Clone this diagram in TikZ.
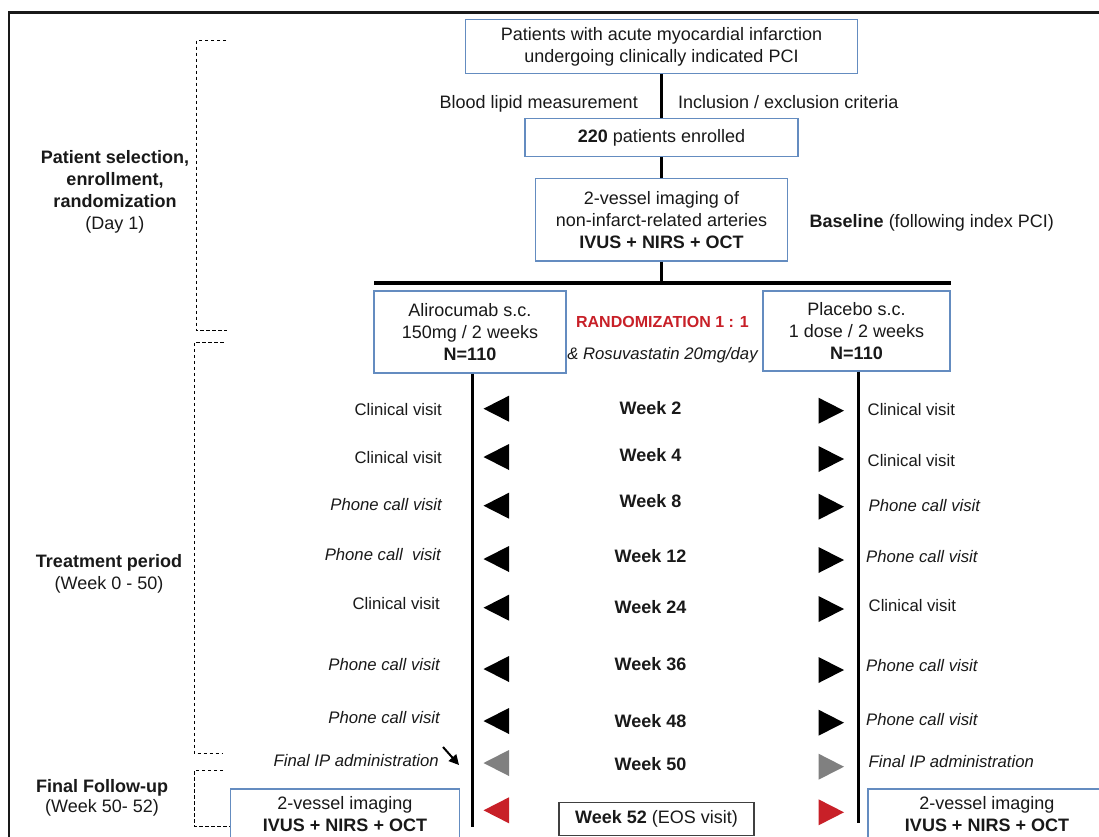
\documentclass[tikz,border=0pt]{standalone}
\usepackage{fontspec}
\setmainfont{Liberation Sans}
\usetikzlibrary{arrows.meta}
\definecolor{boxblue}{RGB}{100,140,192}
\definecolor{rred}{RGB}{200,32,40}
\definecolor{tgray}{RGB}{128,128,128}
\definecolor{txt}{RGB}{25,25,25}
\newcommand{\myfs}[1]{\fontsize{#1}{22}\selectfont}
\begin{document}
\begin{tikzpicture}[x=1pt,y=-1pt,
  every node/.style={text=txt, inner sep=0pt},
  lbl/.style={font=\myfs{18}, yshift=-2.5pt},
  side/.style={font=\myfs{16.7}, yshift=-2.5pt},
  sideit/.style={font=\myfs{16.7}\itshape, yshift=-2.5pt},
  week/.style={font=\myfs{18}\bfseries, yshift=-2.5pt},
  bx/.style={draw=boxblue, line width=1.3pt, align=center, font=\myfs{18}},
  conn/.style={line width=3pt, draw=black},
  brk/.style={dash pattern=on 3.5pt off 2.5pt, line width=0.9pt, draw=black},
]
\useasboundingbox (0,0) rectangle (1099,836);
\clip (0,0) rectangle (1099,836);
\fill[white] (0,0) rectangle (1099,836);

% frame
\draw[line width=2.2pt, txt] (9,845) -- (9,12.5) -- (1110,12.5);

% top flow
\node[bx, minimum width=392pt, minimum height=54pt] (p) at (661.5,46.5) {Patients with acute myocardial infarction\\undergoing clinically indicated PCI};
\node[bx, minimum width=273pt, minimum height=38pt] (enr) at (661.5,137.5) {\textbf{220} patients enrolled};
\node[bx, minimum width=252pt, minimum height=82.5pt] (img) at (661.5,219.75) {2-vessel imaging of\\non-infarct-related arteries\\\textbf{IVUS + NIRS + OCT}};
\node[lbl, anchor=mid east] (bl) at (638,103) {Blood lipid measurement};
\node[lbl, anchor=mid west] (ie) at (678,103) {Inclusion / exclusion criteria};
\node[lbl, anchor=mid west] (base) at (809.5,222) {\textbf{Baseline} (following index PCI)};

\coordinate (barL) at (374,282.5);
\coordinate (barR) at (951,282.5);
\coordinate (barM) at (661.5,282.5);
\draw[conn] (p.south) -- (enr.north);
\draw[conn] (enr.south) -- (img.north);
\draw[conn] (img.south) -- (barM);
\draw[line width=4pt] (barL) -- (barR);

% arms
\node[bx, minimum width=192pt, minimum height=82pt] (ali) at (470,332) {Alirocumab s.c.\\150mg / 2 weeks\\\textbf{N=110}};
\node[bx, minimum width=187pt, minimum height=80pt] (pla) at (856.5,331) {Placebo s.c.\\1 dose / 2 weeks\\\textbf{N=110}};
\node[font=\myfs{16}\bfseries, text=rred, anchor=mid, yshift=-2.5pt] (rand) at (662.5,322) {RANDOMIZATION 1 : 1};
\node[sideit, anchor=mid] (rosu) at (662.5,354) {\& Rosuvastatin 20mg/day};

% timelines
\coordinate (Lend) at (472,827);
\coordinate (Rend) at (858.5,823);
\draw[line width=3pt] (ali.south -| Lend) -- (Lend);
\draw[line width=3pt] (pla.south -| Rend) -- (Rend);

% triangles
\foreach \yl/\yr/\c in {408.7/410.7/black, 457/459/black, 505.7/506.7/black, 559/560/black, 607.7/609/black, 669/670/black, 721/722.7/black, 763/766.7/tgray, 810.3/812.3/rred} {
  \fill[\c] (509,\yl-13) -- (483.5,\yl) -- (509,\yl+13) -- cycle;
  \fill[\c] (818.5,\yr-13) -- (844,\yr) -- (818.5,\yr+13) -- cycle;
}

% week labels
\foreach \t/\y in {2/409.7, 4/456.7, 8/502.7, 12/557, 24/608.3, 36/665, 48/722.7, 50/765}
  \node[week, anchor=mid] (w\t) at (650.5,\y) {Week \t};
\node[draw=black!75, line width=1.3pt, minimum width=195pt, minimum height=33pt, font=\myfs{18}] (w52) at (656.5,818.7) {\textbf{Week 52} (EOS visit)};

% left labels
\node[side, anchor=mid east] (l1) at (442,410) {Clinical visit};
\node[side, anchor=mid east] (l2) at (442,458.3) {Clinical visit};
\node[sideit, anchor=mid east] (l3) at (442,505.7) {Phone call visit};
\node[sideit, anchor=mid east] (l4) at (441,555) {Phone call \ visit};
\node[side, anchor=mid east] (l5) at (440,604.3) {Clinical visit};
\node[sideit, anchor=mid east] (l6) at (440,665) {Phone call visit};
\node[sideit, anchor=mid east] (l7) at (440,718.3) {Phone call visit};
\node[sideit, anchor=mid east] (l8) at (439,761) {Final IP administration};
\coordinate (as) at (443,747);
\coordinate (ae) at (459,765);
\draw[line width=2pt, -{Triangle[length=10pt,width=10pt]}] (as) -- (ae);

% right labels
\node[side, anchor=mid west] (r1) at (867.5,410) {Clinical visit};
\node[side, anchor=mid west] (r2) at (867.5,461) {Clinical visit};
\node[sideit, anchor=mid west] (r3) at (868.5,506.7) {Phone call visit};
\node[sideit, anchor=mid west] (r4) at (866,557) {Phone call visit};
\node[side, anchor=mid west] (r5) at (868.5,606.7) {Clinical visit};
\node[sideit, anchor=mid west] (r6) at (866,666) {Phone call visit};
\node[sideit, anchor=mid west] (r7) at (866,720) {Phone call visit};
\node[sideit, anchor=mid west] (r8) at (868.5,762.7) {Final IP administration};

% bottom imaging boxes
\node[bx, minimum width=228.5pt, minimum height=50pt] (limg) at (345,814) {2-vessel imaging\\\textbf{IVUS + NIRS + OCT}};
\node[bx, minimum width=238pt, minimum height=50pt] (rimg) at (987,814) {2-vessel imaging\\\textbf{IVUS + NIRS + OCT}};

% section labels
\node[font=\myfs{18}, align=center] (s1) at (115,191.7) {\textbf{Patient selection,}\\\textbf{enrollment,}\\\textbf{randomization}\\(Day 1)};
\node[font=\myfs{18}, align=center] (s2) at (109,574) {\textbf{Treatment period}\\(Week 0 - 50)};
\node[font=\fontsize{18}{20.6}\selectfont, align=center] (s3) at (102,798) {\textbf{Final Follow-up}\\(Week 50- 52)};

% brackets
\draw[brk] (226,40) -- (196.5,40) -- (196.5,330.7) -- (227,330.7);
\draw[brk] (223.5,342.3) -- (194,342.3) -- (194,753.3) -- (223,753.3);
\draw[brk] (223,770) -- (194,770) -- (194,826) -- (limg.west |- 0,826);
\end{tikzpicture}
\end{document}
